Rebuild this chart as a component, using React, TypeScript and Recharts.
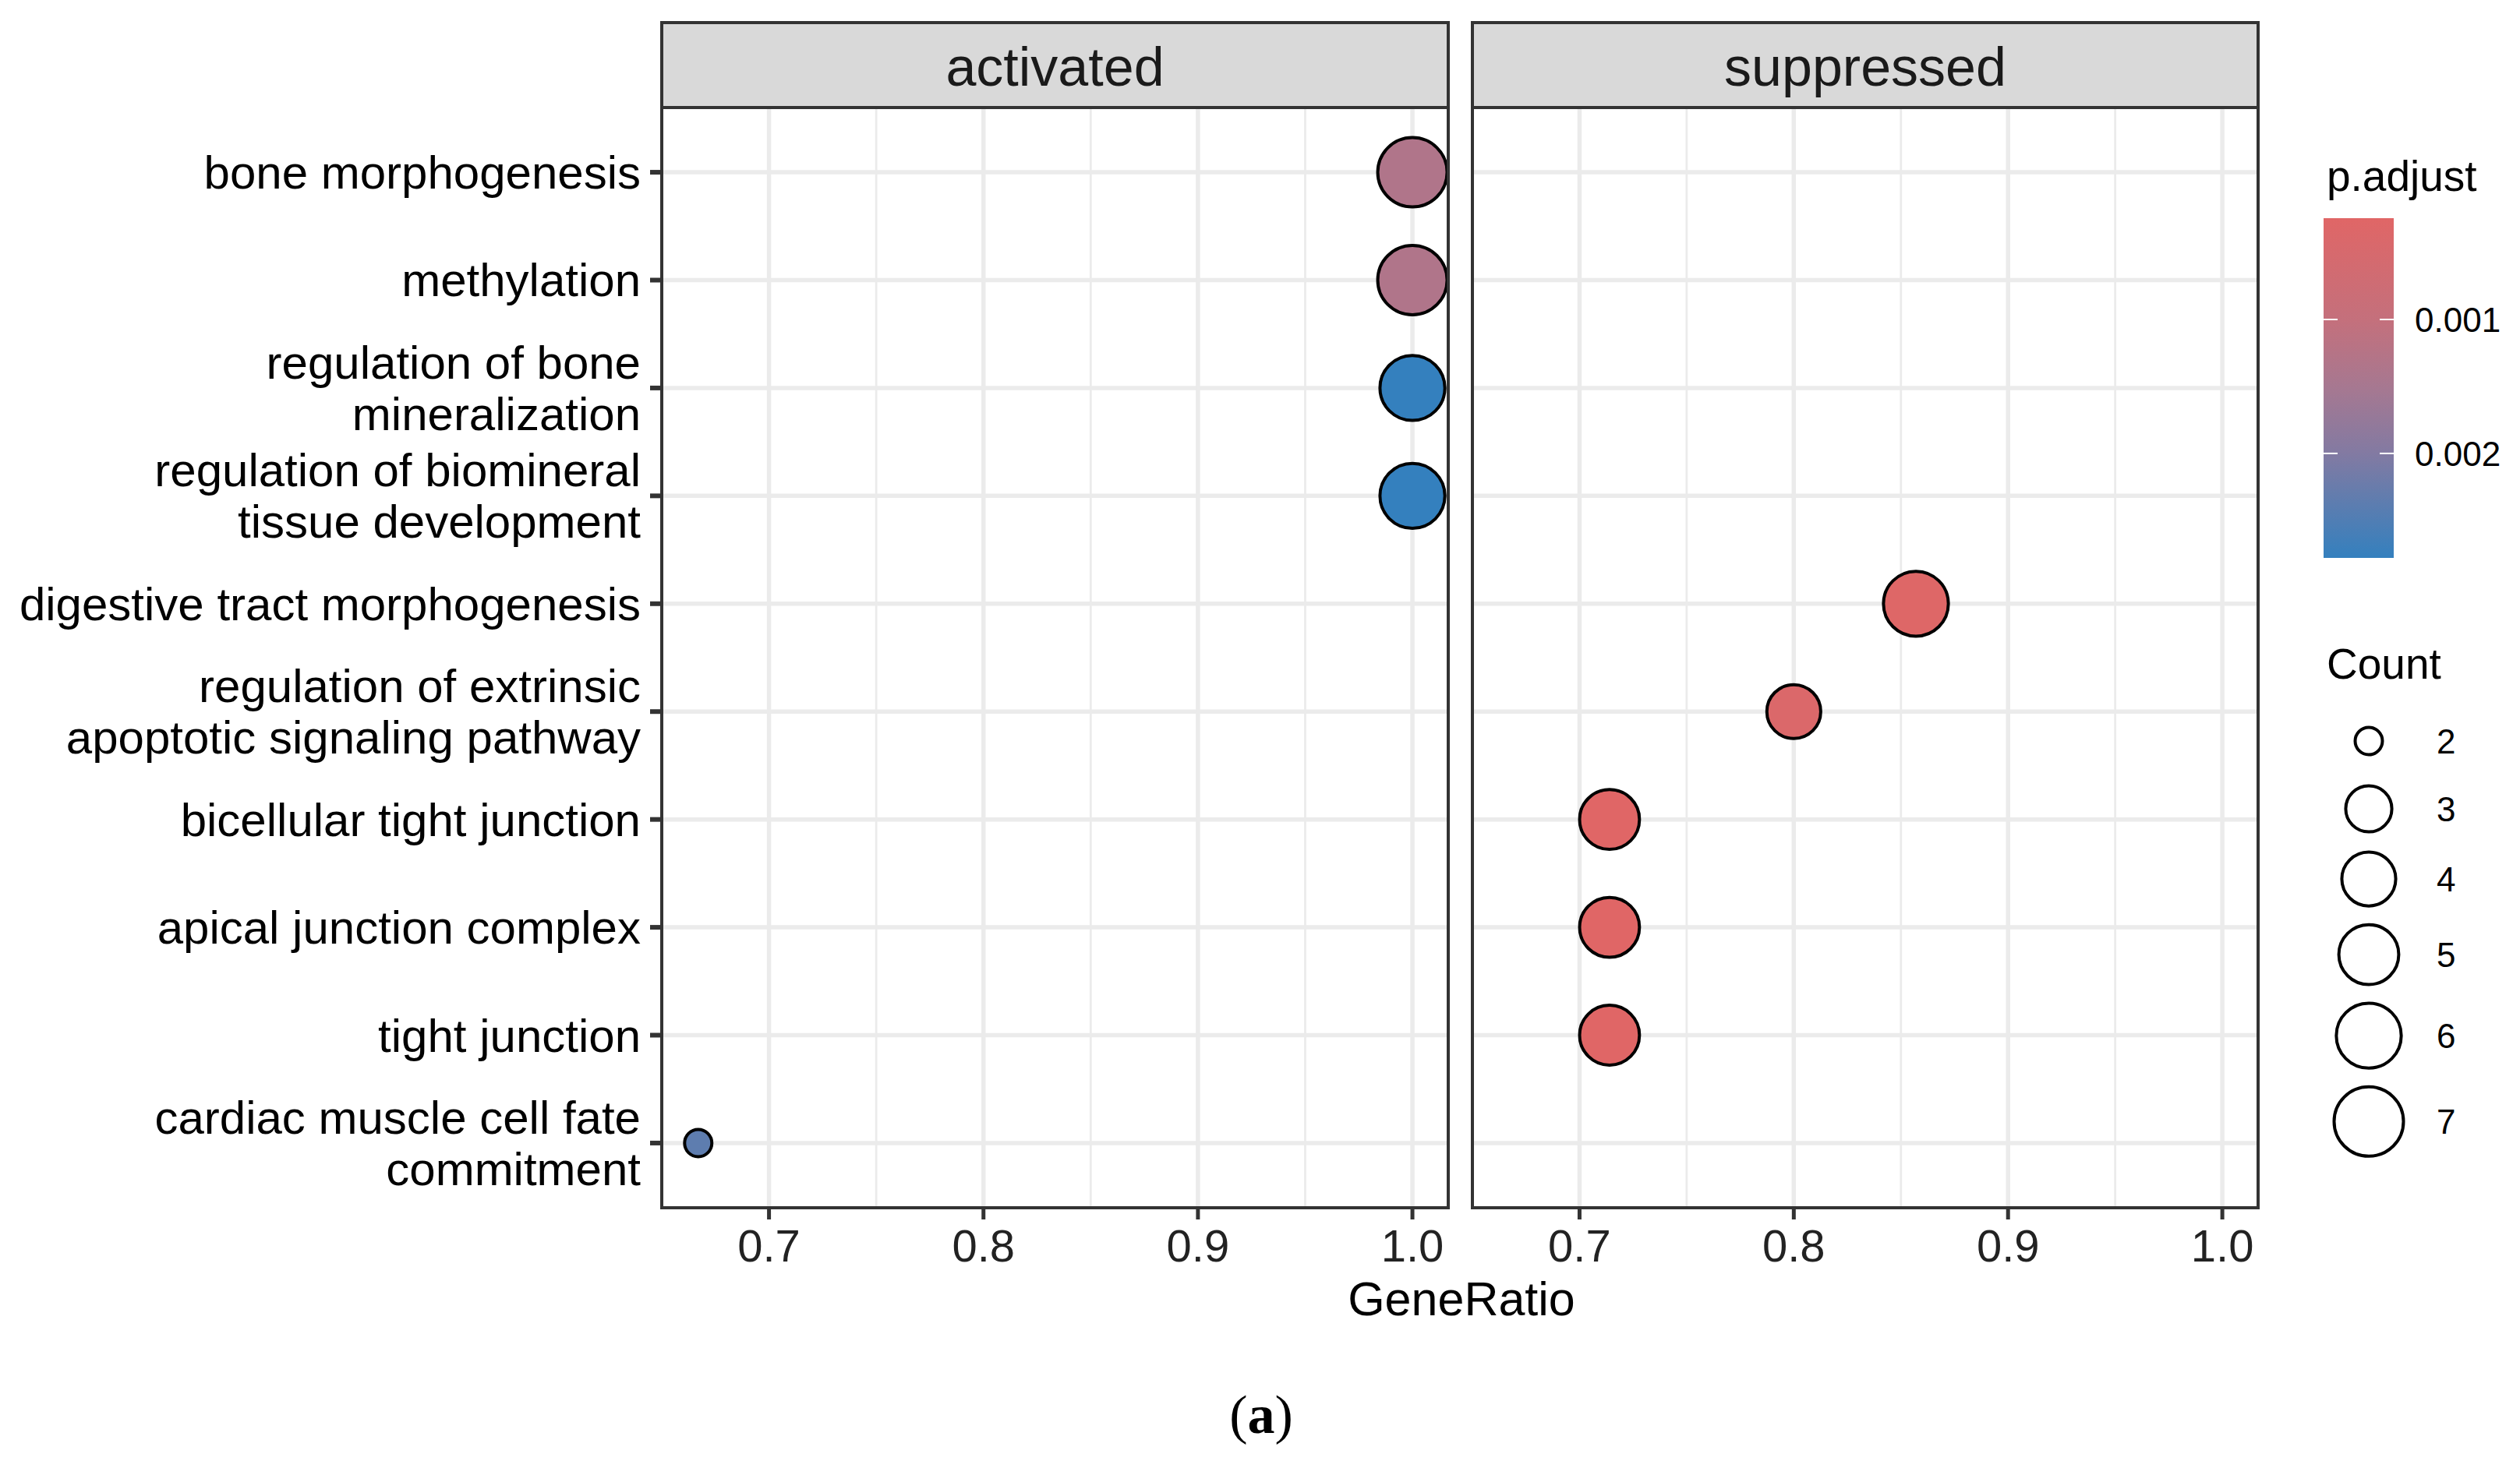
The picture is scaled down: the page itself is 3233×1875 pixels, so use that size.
import React from 'react';
import { ScatterChart, Scatter, XAxis, YAxis, CartesianGrid } from 'recharts';

const FONT = '"Liberation Sans", Arial, sans-serif';

// enrichment terms, top to bottom
const terms = [
  'bone morphogenesis',
  'methylation',
  'regulation of bone\nmineralization',
  'regulation of biomineral\ntissue development',
  'digestive tract morphogenesis',
  'regulation of extrinsic\napoptotic signaling pathway',
  'bicellular tight junction',
  'apical junction complex',
  'tight junction',
  'cardiac muscle cell fate\ncommitment',
];
const groups = [
  'activated', 'activated', 'activated', 'activated',
  'suppressed', 'suppressed', 'suppressed', 'suppressed', 'suppressed',
  'activated',
];
const geneRatio = [1.0, 1.0, 1.0, 1.0, 0.857, 0.8, 0.714, 0.714, 0.714, 0.667];
const counts = [7, 7, 6, 6, 6, 4, 5, 5, 5, 2];
const pAdjust = [0.00134, 0.00134, 0.00278, 0.00278, 0.00029, 0.00037, 0.000244, 0.000244, 0.000244, 0.00236];

const facets = ['activated', 'suppressed'];
const xTicks = [0.7, 0.8, 0.9, 1.0];
const xMinor = [0.75, 0.85, 0.95];
const xDomain = [0.65, 1.0167];
const rowTicks = [1, 2, 3, 4, 5, 6, 7, 8, 9, 10];
const countLegend = [2, 3, 4, 5, 6, 7];
const pTicks = [0.001, 0.002];

// colour gradient of p.adjust (top = small p)
const gradientStops: [number, string][] = [
  [0, '#E06666'],
  [0.3, '#C4707C'],
  [0.5, '#A67891'],
  [0.69, '#837AA2'],
  [1, '#3480BE'],
];

const rows = terms.map((term, i) => ({
  term,
  row: i + 1,
  group: groups[i],
  ratio: geneRatio[i],
  count: counts[i],
  p: pAdjust[i],
}));

const pMin = Math.min(...pAdjust);
const pMax = Math.max(...pAdjust);
const cMin = Math.min(...countLegend);
const cMax = Math.max(...countLegend);

function hexToRgb(h: string) {
  const n = parseInt(h.slice(1), 16);
  return [(n >> 16) & 255, (n >> 8) & 255, n & 255];
}

function colourAt(f: number) {
  const t = Math.max(0, Math.min(1, f));
  for (let i = 0; i < gradientStops.length - 1; i++) {
    const [f0, c0] = gradientStops[i];
    const [f1, c1] = gradientStops[i + 1];
    if (t <= f1) {
      const k = (t - f0) / (f1 - f0);
      const a = hexToRgb(c0);
      const b = hexToRgb(c1);
      const m = a.map((v, j) => Math.round(v + (b[j] - v) * k));
      return `rgb(${m[0]},${m[1]},${m[2]})`;
    }
  }
  return gradientStops[gradientStops.length - 1][1];
}

const pColour = (p: number) => colourAt((p - pMin) / (pMax - pMin));

// ggplot-like area scale: diameter grows with sqrt of rescaled count
const diameter = (c: number) => 39 + 54 * Math.sqrt((c - cMin) / (cMax - cMin));

const Dot = (props: any) => {
  const { cx, cy, payload } = props;
  if (cx == null || cy == null) return null;
  return (
    <circle
      cx={cx}
      cy={cy}
      r={diameter(payload.count) / 2 - 2}
      fill={pColour(payload.p)}
      stroke="#000"
      strokeWidth={4}
    />
  );
};

const TermTick = (props: any) => {
  const { x, y, payload } = props;
  const lines = terms[payload.value - 1].split('\n');
  return (
    <text x={x} y={y} textAnchor="end" fontSize={60} fill="#000" fontFamily={FONT}>
      {lines.map((l, i) => (
        <tspan key={i} x={x} y={y + 21 + (i - (lines.length - 1) / 2) * 66}>
          {l}
        </tspan>
      ))}
    </text>
  );
};

const PANEL_TOP = 138;
const PANEL_BOTTOM = 1550;
const panels = [
  { left: 849, right: 1858 },
  { left: 1889, right: 2897 },
];

function Panel({ facet, idx }: { facet: string; idx: number }) {
  const showY = idx === 0;
  const { left, right } = panels[idx];
  const chartLeft = showY ? 0 : left;
  const data = rows.filter((r) => r.group === facet);
  return (
    <div style={{ position: 'absolute', left: chartLeft, top: PANEL_TOP }}>
      <ScatterChart
        width={right - chartLeft}
        height={PANEL_BOTTOM - PANEL_TOP + 100}
        margin={{ top: 0, right: 0, bottom: 0, left: 0 }}
      >
        <CartesianGrid horizontal={false} verticalValues={xMinor} stroke="#EBEBEB" strokeWidth={2.8} />
        <CartesianGrid horizontalValues={rowTicks} verticalValues={xTicks} stroke="#EBEBEB" strokeWidth={5.5} />
        <XAxis
          type="number"
          dataKey="ratio"
          domain={xDomain}
          allowDataOverflow
          ticks={xTicks}
          interval={0}
          tickFormatter={(v: number) => v.toFixed(1)}
          height={100}
          tickSize={15}
          tickMargin={13}
          axisLine={false}
          stroke="#333"
          strokeWidth={5}
          tickLine={{ stroke: '#333', strokeWidth: 5 }}
          tick={{ fontSize: 58, fill: '#222', fontFamily: FONT, stroke: 'none' }}
        />
        <YAxis
          type="number"
          dataKey="row"
          domain={[0.4, 10.6]}
          allowDataOverflow
          reversed
          ticks={rowTicks}
          interval={0}
          hide={!showY}
          width={showY ? left : 0}
          tickSize={15}
          tickMargin={12}
          axisLine={false}
          stroke="#333"
          strokeWidth={6}
          tickLine={{ stroke: '#333', strokeWidth: 6 }}
          tick={<TermTick />}
        />
        <Scatter data={data} shape={Dot} isAnimationActive={false} />
      </ScatterChart>
    </div>
  );
}

export default function App() {
  const barX = 2981;
  const barW = 90;
  const barTop = 280;
  const barH = 436;
  const pY = (p: number) => barTop + ((p - pMin) / (pMax - pMin)) * barH;

  // count key centres from stacked key heights
  const keyH = countLegend.map((c) => Math.max(87, diameter(c) + 20));
  const keyY: number[] = [];
  countLegend.forEach((_, i) => {
    keyY.push(i === 0 ? 951 : keyY[i - 1] + (keyH[i - 1] + keyH[i]) / 2);
  });

  return (
    <div
      style={{
        position: 'absolute',
        left: 0,
        top: 0,
        width: 3233,
        height: 1875,
        background: '#fff',
        fontFamily: FONT,
        overflow: 'hidden',
      }}
    >
      {facets.map((f, i) => (
        <Panel key={f} facet={f} idx={i} />
      ))}

      {facets.map((f, i) => {
        const { left, right } = panels[i];
        return (
          <React.Fragment key={f}>
            <div
              style={{
                position: 'absolute',
                left: left - 2,
                top: 27,
                width: right - left + 4,
                height: PANEL_TOP - 29 + 4,
                boxSizing: 'border-box',
                border: '4px solid #333',
                background: '#D9D9D9',
              }}
            />
            <div
              style={{
                position: 'absolute',
                left: left - 2,
                top: PANEL_TOP - 2,
                width: right - left + 4,
                height: PANEL_BOTTOM - PANEL_TOP + 4,
                boxSizing: 'border-box',
                border: '4px solid #333',
                pointerEvents: 'none',
              }}
            />
          </React.Fragment>
        );
      })}

      <svg
        width={3233}
        height={1875}
        style={{ position: 'absolute', left: 0, top: 0, pointerEvents: 'none' }}
        fontFamily={FONT}
      >
        <defs>
          <linearGradient id="pgrad" x1="0" y1="0" x2="0" y2="1">
            {gradientStops.map(([o, c]) => (
              <stop key={o} offset={o} stopColor={c} />
            ))}
          </linearGradient>
        </defs>

        {facets.map((f, i) => (
          <text
            key={f}
            x={(panels[i].left + panels[i].right) / 2}
            y={110}
            textAnchor="middle"
            fontSize={70}
            fill="#1A1A1A"
          >
            {f}
          </text>
        ))}

        <text x={1875} y={1688} textAnchor="middle" fontSize={61} fill="#000">
          GeneRatio
        </text>

        <text x={1618} y={1839} textAnchor="middle" fontSize={70} fill="#000" fontFamily='"Liberation Serif", "Times New Roman", serif'>
          (<tspan fontWeight="bold">a</tspan>)
        </text>

        {/* p.adjust colourbar */}
        <text x={2985} y={245} fontSize={55} fill="#000">
          p.adjust
        </text>
        <rect x={barX} y={barTop} width={barW} height={barH} fill="url(#pgrad)" />
        {pTicks.map((p) => (
          <g key={p}>
            <line x1={barX} x2={barX + 18} y1={pY(p)} y2={pY(p)} stroke="#fff" strokeWidth={2} />
            <line x1={barX + barW - 18} x2={barX + barW} y1={pY(p)} y2={pY(p)} stroke="#fff" strokeWidth={2} />
            <text x={3098} y={pY(p) + 16} fontSize={44} fill="#000">
              {p.toFixed(3)}
            </text>
          </g>
        ))}

        {/* Count size legend */}
        <text x={2985} y={871} fontSize={55} fill="#000">
          Count
        </text>
        {countLegend.map((c, i) => (
          <g key={c}>
            <circle cx={3039} cy={keyY[i]} r={diameter(c) / 2 - 2} fill="none" stroke="#000" strokeWidth={4} />
            <text x={3126} y={keyY[i] + 16} fontSize={44} fill="#000">
              {c}
            </text>
          </g>
        ))}
      </svg>
    </div>
  );
}
